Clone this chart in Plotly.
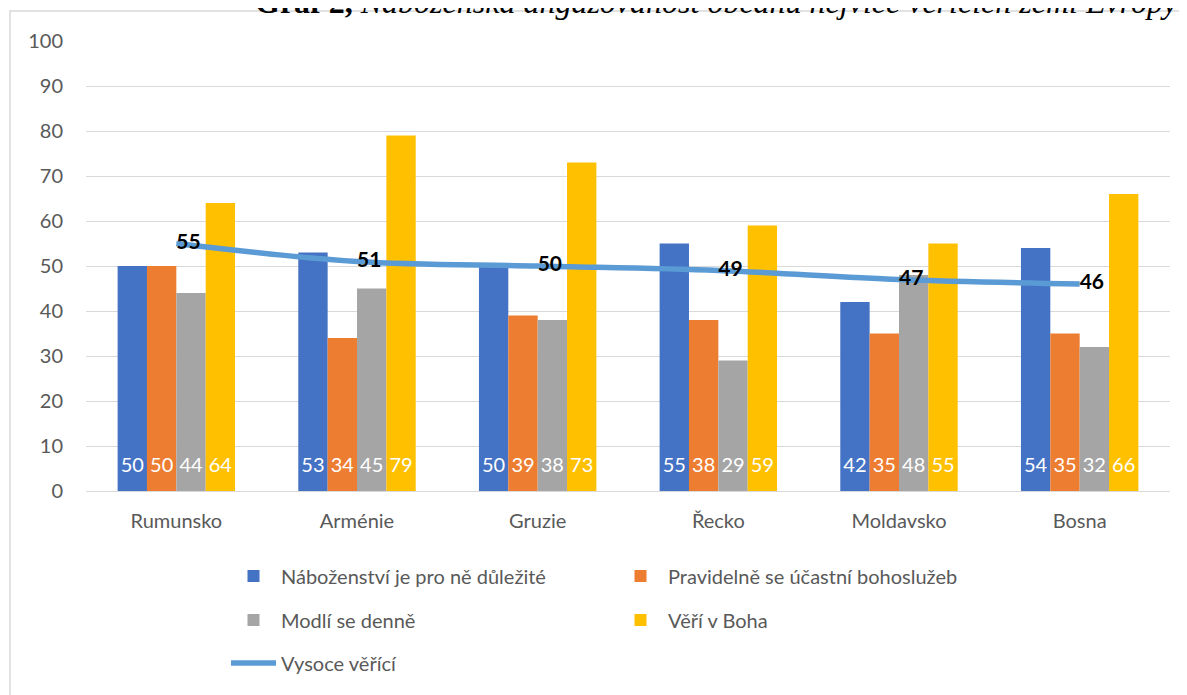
import plotly.graph_objects as go

countries = ["Rumunsko", "Arménie", "Gruzie", "Řecko", "Moldavsko", "Bosna"]
dulezite = [50, 53, 50, 55, 42, 54]
ucast = [50, 34, 39, 38, 35, 35]
modli = [44, 45, 38, 29, 48, 32]
veri = [64, 79, 73, 59, 55, 66]
vysoce = [55, 51, 50, 49, 47, 46]

series = [
    ("Náboženství je pro ně důležité", dulezite, "#4472C4", "legend"),
    ("Pravidelně se účastní bohoslužeb", ucast, "#ED7D31", "legend"),
    ("Modlí se denně", modli, "#A5A5A5", "legend2"),
    ("Věří v Boha", veri, "#FFC000", "legend2"),
]

FONT = "Lato"
GRAY = "#595959"
LABEL_Y = 5.3  # vertical placement of the in-bar value labels (style)

# page body has an 8px margin; figure geometry chosen so the plot sits as in the reference
W, H = 1179, 687
L, R, T, B = 78, 17, 33, 204
PW, PH = W - L - R, H - T - B

fig = go.Figure()
for i, (name, vals, col, lg) in enumerate(series):
    fig.add_trace(go.Bar(
        x=countries, y=vals, name=name, offsetgroup=str(i), legend=lg,
        marker=dict(color=col, line=dict(width=0)),
    ))
for i, (name, vals, col, lg) in enumerate(series):
    fig.add_trace(go.Scatter(
        x=countries, y=[LABEL_Y] * len(vals), mode="text",
        offsetgroup=str(i), alignmentgroup="labels",
        text=[str(v) for v in vals], textposition="middle center",
        textfont=dict(color="white", size=20, family=FONT),
        showlegend=False, hoverinfo="skip",
    ))

fig.add_trace(go.Scatter(
    x=countries, y=vysoce, name="Vysoce věřící", legend="legend3",
    offsetgroup="line", alignmentgroup="line",
    mode="lines+text", line=dict(color="#5B9BD5", width=5.5, shape="spline"),
    text=[str(v) for v in vysoce], textposition="middle right",
    textfont=dict(color="black", size=21, family=FONT, weight="bold"),
))

def leg(row_center_screen_y):
    fy = row_center_screen_y - 8
    return dict(orientation="h", x=(226 - 8 - L) / PW, y=(T + PH - fy) / PH,
                xanchor="left", yanchor="middle",
                entrywidth=327, entrywidthmode="pixels", traceorder="normal",
                font=dict(size=20, color=GRAY, family=FONT),
                itemwidth=45, bgcolor="rgba(0,0,0,0)")

fig.update_layout(
    width=W, height=H,
    margin=dict(l=L, r=R, t=T, b=B),
    paper_bgcolor="white", plot_bgcolor="white",
    barmode="group", bargap=0.35, bargroupgap=0,
    scattermode="group", scattergap=0.35,
    font=dict(family=FONT, color=GRAY, size=20),
    showlegend=True,
    legend=leg(576), legend2=leg(620), legend3=leg(663),
    xaxis=dict(showgrid=False, ticks="", showline=False, ticklabelstandoff=16,
               tickfont=dict(size=20, color=GRAY, family=FONT)),
    yaxis=dict(range=[0, 100], dtick=10, showgrid=True, gridcolor="#D9D9D9",
               gridwidth=1.3, zeroline=True, zerolinecolor="#D9D9D9", zerolinewidth=1.3,
               ticks="", ticklabelstandoff=22,
               tickfont=dict(size=20, color=GRAY, family=FONT)),
)

# chart border (extends beyond the visible area)
fig.add_shape(type="rect", xref="paper", yref="paper",
              x0=(2 - L) / PW, x1=1.2, y0=-0.7, y1=(T + PH - 3) / PH,
              line=dict(color="#D9D9D9", width=1.5), fillcolor="rgba(0,0,0,0)", layer="below")

fig.add_annotation(
    xref="paper", yref="paper", x=(1172 - L) / PW, y=(T + PH - 14) / PH,
    xanchor="right", yanchor="bottom", showarrow=False,
    text="<b>Graf 2,</b> <i>Náboženská angažovanost občanů nejvíce věřících zemí Evropy</i>",
    font=dict(family="Liberation Serif", size=32, color="black"),
)

fig.write_html("out.html")
